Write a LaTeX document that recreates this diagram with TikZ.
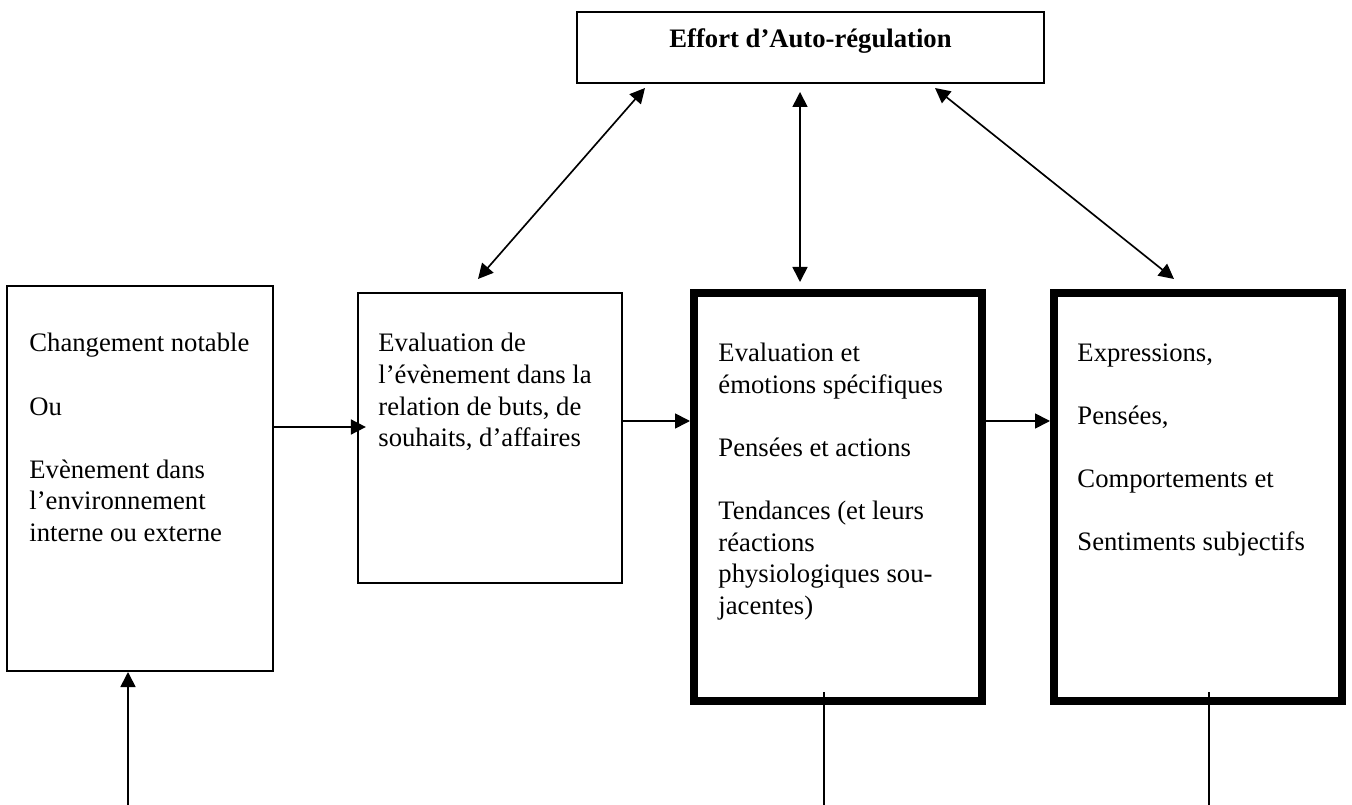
\documentclass[tikz,border=0pt]{standalone}
\usepackage{fontspec}
\setmainfont{Liberation Serif}
\usetikzlibrary{arrows.meta}

\tikzset{
  box/.style={draw, line width=0.9pt, inner sep=0pt},
  heavybox/.style={draw, line width=3.6pt, inner sep=0pt},
  boxtext/.style={anchor=north west, align=left, inner sep=0pt},
  arr/.style={-{Triangle[length=6.75pt,width=6.75pt]}, line width=0.75pt},
  darr/.style={{Triangle[length=6.75pt,width=6.75pt]}-{Triangle[length=6.75pt,width=6.75pt]}, line width=0.75pt},
  stem/.style={line width=0.6pt}
}

\begin{document}
\begin{tikzpicture}[x=0.45pt, y=-0.45pt, font=\fontsize{12}{14.2}\selectfont]
    \useasboundingbox (0,0) rectangle (1352,805);

    % Boxes
    \node[box, minimum width=210.15pt, minimum height=31.95pt, text height=6pt, text depth=6pt] (top) at (810.5,47.5) {\textbf{Effort d'Auto-régulation}};
    \node[box, minimum width=119.7pt, minimum height=173.25pt] (event) at (140,478.5) {};
    \node[box, minimum width=118.8pt, minimum height=130.5pt] (appraisal) at (490,438) {};
    \node[heavybox, minimum width=129.6pt, minimum height=183.8pt] (emotion) at (838,497.25) {};
    \node[heavybox, minimum width=129.6pt, minimum height=183.8pt] (response) at (1198,497.25) {};

    % Box texts
    \node[boxtext] (eventtxt) at (29,333) {Changement notable\\[14.2pt] Ou\\[14.2pt] Evènement dans\\ l'environnement\\ interne ou externe};
    \node[boxtext] (appraisaltxt) at (378,333) {Evaluation de\\ l'évènement dans la\\ relation de buts, de\\ souhaits, d'affaires};
    \node[boxtext] (emotiontxt) at (718,343) {Evaluation et\\ émotions spécifiques\\[14.2pt] Pensées et actions\\[14.2pt] Tendances (et leurs\\ réactions\\ physiologiques sou-\\ jacentes)};
    \node[boxtext] (responsetxt) at (1077,343) {Expressions,\\[14.2pt] Pensées,\\[14.2pt] Comportements et\\[14.2pt] Sentiments subjectifs};

    % Free ends
    \coordinate (lowA) at (478,279);
    \coordinate (highA) at (645,88);
    \coordinate (lowB) at (800,282);
    \coordinate (highB) at (800,92);
    \coordinate (lowC) at (1174,279);
    \coordinate (highC) at (935,88);
    \coordinate (inflow) at (128,805);
    \coordinate (outA) at (824,805);
    \coordinate (outB) at (1209,805);

    % Regulation links
    \draw[darr] (lowA) -- (highA);
    \draw[darr] (lowB) -- (highB);
    \draw[darr] (lowC) -- (highC);

    % Sequence
    \draw[arr] (event.east |- 0,427) -- ([xshift=4pt]appraisal.west |- 0,427);
    \draw[arr] (appraisal.east |- 0,421) -- (emotion.west |- 0,421);
    \draw[arr] (emotion.east |- 0,421) -- (response.west |- 0,421);

    % Bottom lines
    \draw[arr] (inflow) -- (event.south -| inflow);
    \draw[stem] (outA) -- ([yshift=6pt]emotion.south -| outA);
    \draw[stem] (outB) -- ([yshift=6pt]response.south -| outB);
\end{tikzpicture}
\end{document}
